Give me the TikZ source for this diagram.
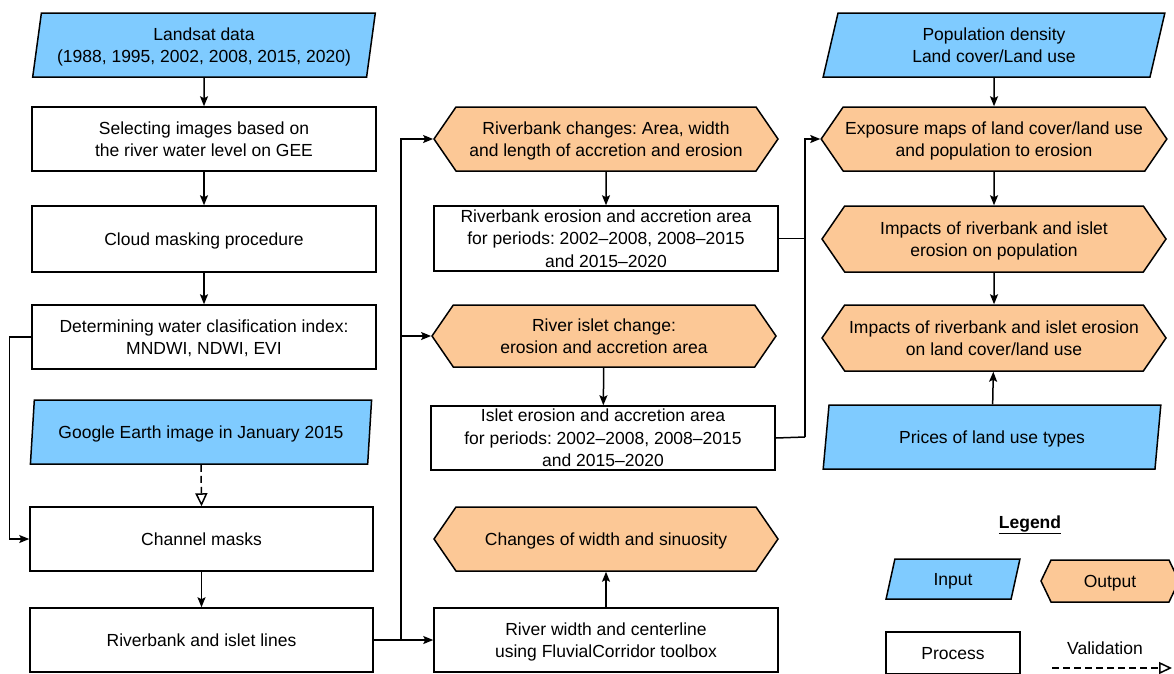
\documentclass[tikz,border=0pt]{standalone}
\usepackage{fontspec}
\setmainfont{Liberation Sans}
\usepackage{xcolor}
\usetikzlibrary{shapes.geometric,shapes.symbols,arrows.meta}
\definecolor{inblue}{RGB}{127,203,255}
\definecolor{outorange}{RGB}{252,200,150}
\frenchspacing

\begin{document}
\begin{tikzpicture}[x=1pt, y=-1pt,
        every node/.style = {font=\fontsize{17.5}{22.5}\selectfont, align=center, inner sep=2pt, text depth=-2pt},
        procbox/.style = {draw, line width=1.5pt, fill=white, minimum width=344pt, minimum height=64pt},
        inbox/.style = {draw, line width=1.5pt, fill=inblue, trapezium, trapezium left angle=78.5,
                trapezium right angle=101.5, trapezium stretches=true, minimum width=344pt, minimum height=64pt},
        outbox/.style = {draw, line width=1.5pt, fill=outorange, signal, signal to=west and east,
                signal pointer angle=111, minimum width=344pt, minimum height=64pt},
        arr/.style = {line width=1.5pt, -{Stealth[length=10pt, width=8pt, inset=2pt]}},
        valarr/.style = {line width=1.5pt, dash pattern=on 7pt off 4pt, -{Triangle[open, length=13pt, width=12pt]}}
    ]
        \useasboundingbox (0,0) rectangle (1174,673);

        % left column
        \node[inbox] (landsat) at (204,45) {Landsat data\\(1988, 1995, 2002, 2008, 2015, 2020)};
        \node[procbox] (select) at (204,139) {Selecting images based on\\the river water level on GEE};
        \node[procbox, minimum height=66pt] (cloud) at (204,239) {Cloud masking procedure};
        \node[procbox] (index) at (204,337) {Determining water clasification index:\\MNDWI, NDWI, EVI};
        \node[inbox, minimum width=342pt] (google) at (201,432) {Google Earth image in January 2015};
        \node[procbox, minimum width=343pt] (masks) at (201.5,539) {Channel masks};
        \node[procbox, minimum width=343pt] (lines) at (201.5,640) {Riverbank and islet lines};

        % middle column
        \node[outbox] (bankchange) at (606,139) {Riverbank changes: Area, width\\and length of accretion and erosion};
        \node[procbox, minimum height=65pt] (bankarea) at (606,238.5) {Riverbank erosion and accretion area\\for periods: 2002--2008, 2008--2015\\and 2015--2020};
        \node[outbox, minimum height=62pt] (isletchange) at (604,336) {River islet change:\\erosion and accretion area};
        \node[procbox] (isletarea) at (603,438) {Islet erosion and accretion area\\for periods: 2002--2008, 2008--2015\\and 2015--2020};
        \node[outbox] (sinuosity) at (606,539) {Changes of width and sinuosity};
        \node[procbox] (width) at (606,640) {River width and centerline\\using FluvialCorridor toolbox};

        % right column
        \node[inbox, minimum width=342pt] (popdens) at (994,45) {Population density\\Land cover/Land use};
        \node[outbox] (exposure) at (994,139) {Exposure maps of land cover/land use\\and population to erosion};
        \node[outbox, minimum height=66pt] (imppop) at (994,239) {Impacts of riverbank and islet\\erosion on population};
        \node[outbox, minimum height=66pt] (impland) at (994,338) {Impacts of riverbank and islet erosion\\on land cover/land use};
        \node[inbox, minimum width=338pt] (prices) at (992,437) {Prices of land use types};

        % legend
        \node (legend) at (1030,522) {\underline{\textbf{Legend}}};
        \node[inbox, minimum width=134pt, minimum height=40pt] (leginput) at (953,579) {Input};
        \node[outbox, signal pointer angle=129, minimum width=138pt, minimum height=42pt] (legoutput) at (1110,581) {Output};
        \node[procbox, minimum width=134pt, minimum height=42pt] (legprocess) at (953,653) {Process};
        \node (legvalid) at (1105,648) {Validation};
        \coordinate (valstart) at (1052,668);
        \coordinate (valend) at (1172,668);

        % bus lines
        \coordinate (leftbus) at (401,640);
        \coordinate (rightbus) at (805,437);

        % connectors
        \draw[arr] (landsat) -- (select);
        \draw[arr] (select) -- (cloud);
        \draw[arr] (cloud) -- (index);
        \draw[arr] (index.west) -- ++(-22,0) |- (masks.west);
        \draw[valarr] (google.south) -- (masks.north);
        \draw[arr] (masks) -- (lines);
        \draw[arr] (lines.east) -- (width.west);
        \draw[arr] (leftbus) |- (bankchange.west);
        \draw[arr] (leftbus) |- (isletchange.west);
        \draw[arr] (bankchange) -- (bankarea);
        \draw[arr] (isletchange) -- (isletarea);
        \draw[arr] (width) -- (sinuosity);
        \draw[line width=1.5pt] (isletarea.east) -- (rightbus);
        \draw[line width=1.5pt] (bankarea.east) -- (bankarea.east -| rightbus);
        \draw[arr] (rightbus) |- (exposure.west);
        \draw[arr] (popdens) -- (exposure);
        \draw[arr] (exposure) -- (imppop);
        \draw[arr] (imppop) -- (impland);
        \draw[arr] (prices) -- (impland);
        \draw[valarr] (valstart) -- (valend);
    \end{tikzpicture}
\end{document}
